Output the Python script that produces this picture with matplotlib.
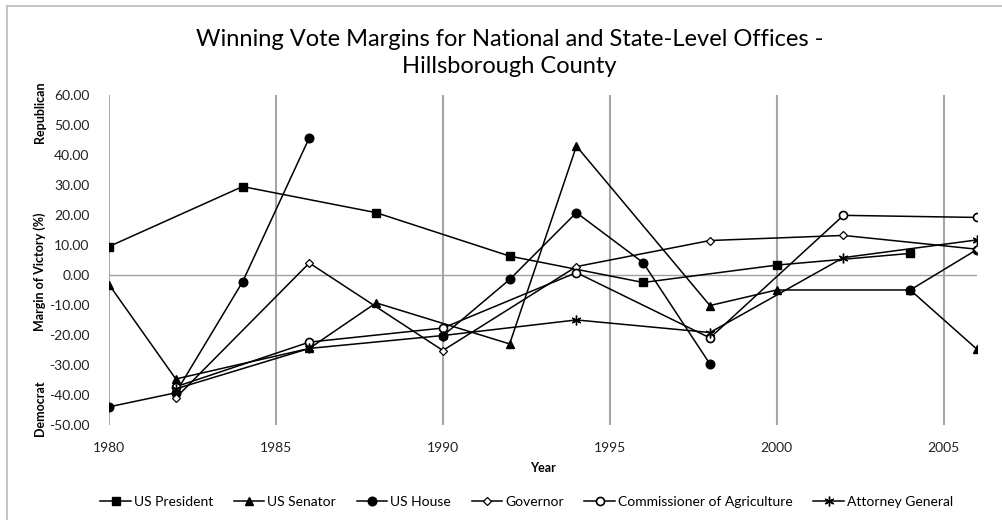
import numpy as np
import matplotlib.pyplot as plt
from matplotlib.lines import Line2D

plt.rcParams['font.family'] = ['Lato', 'DejaVu Sans']

# 各役職の得票差（%）: 正=共和党, 負=民主党, NaNは線を切る
pres_year = [1980, 1984, 1988, 1992, 1996, 2000, 2004]
pres_val = [9.5, 29.5, 20.8, 6.3, -2.5, 3.3, 7.2]

sen_year = [1980, 1982, 1986, 1988, 1992, 1994, 1998, 2000, 2004, 2006]
sen_val = [-3.2, -34.7, -24.5, -9.3, -23.0, 43.0, -10.2, -5.0, -5.0, -24.8]

house_year = [1980, 1982, 1984, 1986, 1988, 1990, 1992, 1994, 1996, 1998, 2000, 2004, 2006]
house_val = [-44.0, -39.3, -2.3, 45.8, np.nan, -20.3, -1.5, 20.8, 4.1, -29.7, np.nan, -5.0, 8.5]

gov_year = [1982, 1986, 1990, 1994, 1998, 2002, 2006]
gov_val = [-41.0, 4.0, -25.2, 2.8, 11.5, 13.2, 8.6]

agr_year = [1982, 1986, 1990, 1994, 1998, 2002, 2006]
agr_val = [-37.3, -22.4, -17.7, 0.8, -21.0, 19.9, 19.2]

ag_year = [1982, 1986, 1990, 1994, 1998, 2002, 2006]
ag_val = [-38.0, -24.5, -20.2, -15.0, -19.2, 5.8, 11.7]

labels = ['US President', 'US Senator', 'US House', 'Governor',
          'Commissioner of Agriculture', 'Attorney General']

fig = plt.figure(figsize=(10.03, 5.2), dpi=100)
ax = fig.add_axes([0.1087, 0.183, 0.8654, 0.634])

# 縦グリッドと0の線
for yr in range(1980, 2006, 5):
    ax.axvline(yr, color='#a6a6a6', lw=1.5, zorder=0)
ax.axhline(0, color='#a0a0a0', lw=1.0, zorder=0)

lw = 1.1
ax.plot(pres_year, pres_val, color='black', lw=lw, marker='s', ms=6.2, mfc='black', mec='black', label=labels[0])
ax.plot(sen_year, sen_val, color='black', lw=lw, marker='^', ms=6.2, mfc='black', mec='black', label=labels[1])
ax.plot(house_year, house_val, color='black', lw=lw, marker='o', ms=6.2, mfc='black', mec='black', label=labels[2])
ax.plot(gov_year, gov_val, color='black', lw=lw, marker='D', ms=4.5, mfc='white', mec='black', mew=0.9, label=labels[3])
ax.plot(agr_year, agr_val, color='black', lw=lw, marker='o', ms=5.8, mfc='white', mec='black', mew=1.2, label=labels[4])
ax.plot(ag_year, ag_val, color='black', lw=lw, marker=(6, 2, 0), ms=7, mec='black', mew=1.0, label=labels[5])

ax.set_xlim(1980, 2006)
ax.set_ylim(-50, 60)
ax.set_xticks(range(1980, 2006, 5))
ax.set_yticks(range(-50, 61, 10))
ax.set_yticklabels(['%.2f' % v for v in range(-50, 61, 10)])
ax.tick_params(axis='both', length=0, labelsize=10, colors='#222222')
ax.tick_params(axis='y', pad=14)
ax.tick_params(axis='x', pad=12)
for s in ax.spines.values():
    s.set_visible(False)

ax.set_xlabel('Year', fontsize=9, fontweight='bold', labelpad=6)

# 縦軸ラベル
fig.text(0.040, 0.477, 'Margin of Victory (%)', rotation=90, ha='center', va='center', fontsize=9, fontweight='bold')
fig.text(0.040, 0.215, 'Democrat', rotation=90, ha='center', va='center', fontsize=9, fontweight='bold')
fig.text(0.040, 0.785, 'Republican', rotation=90, ha='center', va='center', fontsize=9, fontweight='bold')

fig.text(0.508, 0.898, 'Winning Vote Margins for National and State-Level Offices -\nHillsborough County',
         ha='center', va='center', fontsize=17, linespacing=1.4)

fig.legend(loc='center', bbox_to_anchor=(0.525, 0.035), ncol=6, frameon=False, fontsize=10,
           handlelength=2.2, handletextpad=0.2, columnspacing=1.5)

# 外枠（上・左）
fig.add_artist(Line2D([0.007, 1.0], [0.989, 0.989], color='#bbbbbb', lw=1.2, transform=fig.transFigure))
fig.add_artist(Line2D([0.007, 0.007], [0.0, 0.989], color='#bbbbbb', lw=1.2, transform=fig.transFigure))

fig.savefig('out.png', dpi=100)
